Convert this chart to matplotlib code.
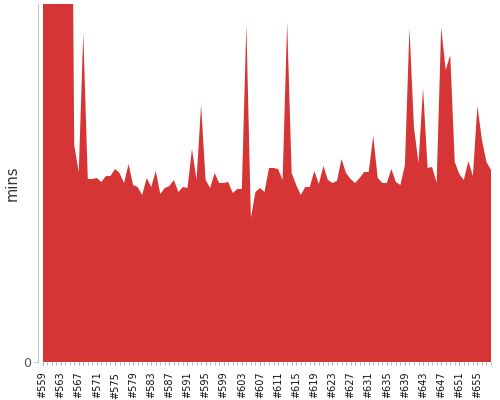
import matplotlib
matplotlib.use("Agg")
import matplotlib.pyplot as plt
from matplotlib.ticker import MultipleLocator, FixedLocator

builds = list(range(559, 659))
mins = [
    83.0, 83.0, 83.0, 83.0, 83.0, 83.0, 83.4,   # 559-565 (off the top)
    21.7, 19.0, 32.9, 18.3, 18.3, 18.4, 18.0, 18.6, 18.6, 19.3,  # 566-575
    18.9, 17.9, 19.8, 17.7, 17.5, 16.7, 18.4, 17.5, 19.1, 16.8,  # 576-585
    17.4, 17.6, 18.2, 17.0, 17.5, 17.4, 21.3, 18.2, 25.7, 18.2,  # 586-595
    17.4, 18.9, 17.9, 17.9, 18.0, 16.9, 17.3, 17.3, 33.7, 14.4,  # 596-605
    17.0, 17.4, 17.0, 19.4, 19.4, 19.3, 18.2, 34.0, 18.9, 17.7,  # 606-615
    16.7, 17.5, 17.5, 19.1, 17.8, 19.6, 18.2, 17.9, 18.1, 20.3,  # 616-625
    18.9, 18.3, 17.9, 18.4, 19.0, 19.0, 22.6, 18.4, 17.9, 17.9,  # 626-635
    19.3, 18.0, 17.7, 19.7, 33.4, 23.4, 19.9, 27.4, 19.4, 19.5,  # 636-645
    17.9, 33.5, 29.2, 30.7, 20.0, 18.8, 18.2, 20.1, 18.6, 25.6,  # 646-655
    22.2, 20.0, 19.2,                                            # 656-658
]
tick_builds = list(range(559, 659, 4))
tick_labels = ["#%d" % b for b in tick_builds]

fig = plt.figure(figsize=(5, 4), dpi=100)
ax = fig.add_axes([0.085, 0.095, 0.897, 0.895])

ax.fill_between(builds, mins, 0, color="#d63535", linewidth=0)
ax.set_xlim(559, 658)
ax.set_ylim(0, 35.8)

ax.spines["top"].set_visible(False)
ax.spines["right"].set_visible(False)
ax.spines["bottom"].set_visible(False)
ax.spines["left"].set_color("#c8c8c8")
ax.spines["left"].set_position(("outward", 3))

ax.set_yticks([0])
ax.set_yticklabels(["0"], color="#555555", fontsize=9)
ax.tick_params(axis="y", length=3, color="#c8c8c8", pad=2)

ax.xaxis.set_major_locator(FixedLocator(tick_builds))
ax.xaxis.set_minor_locator(MultipleLocator(1))
ax.set_xticklabels(tick_labels, rotation=90, fontsize=7, color="#111111")
ax.tick_params(axis="x", which="both", length=2, color="#aaaaaa", pad=5, direction="out")

ax.set_ylabel("mins", fontsize=10.5, color="#333333")
ax.yaxis.set_label_coords(-0.05, 0.5)

fig.savefig("out.png", dpi=100)
